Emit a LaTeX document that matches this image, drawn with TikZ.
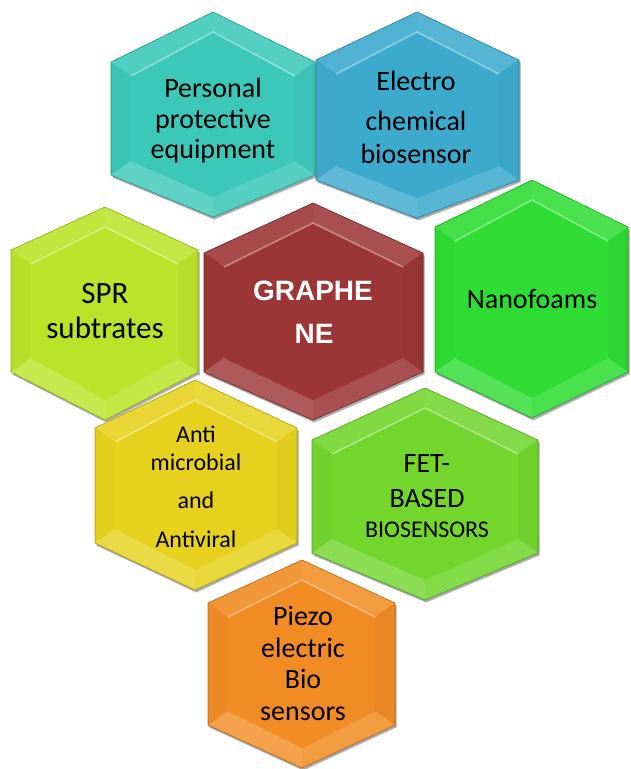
\documentclass[tikz,border=0pt]{standalone}
\usepackage{fontspec}
\setmainfont{Carlito}
\newfontfamily\arialfont{Liberation Sans}
\definecolor{cteal}{HTML}{3CC8B8}
\definecolor{cblue}{HTML}{3CAACD}
\definecolor{clime}{HTML}{BAE42A}
\definecolor{cred}{HTML}{9C3636}
\definecolor{cgreen}{HTML}{2EDC34}
\definecolor{clgreen}{HTML}{72D62D}
\definecolor{cyellow}{HTML}{E6D21E}
\definecolor{corange}{HTML}{F08C23}
\tikzset{
  lbl/.style={anchor=base, inner sep=0pt, text=black, font=\fontsize{28}{31}\selectfont},
  lblsmall/.style={lbl, font=\fontsize{24}{27}\selectfont},
  lblwhite/.style={anchor=base, inner sep=0pt, text=white, font=\arialfont\bfseries\fontsize{28}{31}\selectfont},
}
% cx top bottom left right ul ll color
\newcommand\hexcell[8]{%
  \coordinate (T) at (#1,#2); \coordinate (B) at (#1,#3);
  \coordinate (UL) at (#4,#6); \coordinate (LL) at (#4,#7);
  \coordinate (UR) at (#5,#6); \coordinate (LR) at (#5,#7);
  \coordinate (iT) at (#1,#2+20); \coordinate (iB) at (#1,#3-20);
  \coordinate (iUL) at (#4+20,#6+14); \coordinate (iLL) at (#4+20,#7-14);
  \coordinate (iUR) at (#5-20,#6+14); \coordinate (iLR) at (#5-20,#7-14);
  \fill[black, opacity=0.35] ([shift={(1.5,2.5)}]T) -- ([shift={(1.5,2.5)}]UR) -- ([shift={(1.5,2.5)}]LR) -- ([shift={(1.5,2.5)}]B) -- ([shift={(1.5,2.5)}]LL) -- ([shift={(1.5,2.5)}]UL) -- cycle;
  \fill[#8] (T) -- (UR) -- (LR) -- (B) -- (LL) -- (UL) -- cycle;
  \fill[#8!90!white] (T) -- (UL) -- (iUL) -- (iT) -- cycle;
  \fill[#8!87!white] (T) -- (UR) -- (iUR) -- (iT) -- cycle;
  \fill[#8!98!black] (UL) -- (LL) -- (iLL) -- (iUL) -- cycle;
  \fill[#8!97!black] (UR) -- (LR) -- (iLR) -- (iUR) -- cycle;
  \fill[#8!82!white] (LL) -- (B) -- (iB) -- (iLL) -- cycle;
  \fill[#8!87!white] (LR) -- (B) -- (iB) -- (iLR) -- cycle;
  \fill[#8] (iT) -- (iUR) -- (iLR) -- (iB) -- (iLL) -- (iUL) -- cycle;
  \draw[white, opacity=0.4, line width=1.5pt] (iUL) -- (iT) -- (iUR);
  \draw[white, opacity=0.3, line width=1.2pt] ([yshift=-3]LL) -- ([yshift=-3]B) -- ([yshift=-3]LR);
  \draw[#8!75!black, line width=0.6pt] (T) -- (UR) -- (LR) -- (B) -- (LL) -- (UL) -- cycle;
}
\begin{document}
\begin{tikzpicture}[x=1pt,y=-1pt]
\useasboundingbox (0,0) rectangle (630,769);
\fill[white] (0,0) rectangle (630,769);

\hexcell{213}{12}{217}{111}{315}{62}{175}{cteal}
\hexcell{417}{12}{218}{316}{519}{60}{180}{cblue}
\hexcell{105}{207}{420}{11}{198}{250}{372}{clime}
\hexcell{313}{203}{420}{204}{423}{253}{372}{cred}
\hexcell{532}{180}{418}{435}{628}{227}{372}{cgreen}
\hexcell{425}{388}{600}{312}{538}{440}{553}{clgreen}
\hexcell{195}{380}{590}{95}{297}{428}{543}{cyellow}
\hexcell{302}{560}{768}{208}{395}{603}{725}{corange}

% Personal protective equipment
\node[lbl] (pa) at (213,97) {Personal};
\node[lbl] (pb) at (213,128) {protective};
\node[lbl] (pc) at (213,158) {equipment};
% Electro chemical biosensor
\node[lbl] (ea) at (416,90) {Electro};
\node[lbl] (eb) at (416,130) {chemical};
\node[lbl] (ec) at (416,163) {biosensor};
% SPR subtrates
\node[lbl, font=\fontsize{31}{34}\selectfont] (sa) at (105,303) {SPR};
\node[lbl, font=\fontsize{31}{34}\selectfont] (sb) at (105,338) {subtrates};
% GRAPHENE
\node[lblwhite] (ga) at (313,300) {GRAPHE};
\node[lblwhite] (gb) at (314,343) {NE};
% Nanofoams
\node[lbl] (na) at (532,308) {Nanofoams};
% FET-BASED BIOSENSORS
\node[lbl] (fa) at (427,472) {FET-};
\node[lbl] (fb) at (427,507) {BASED};
\node[lblsmall] (fc) at (427,537) {BIOSENSORS};
% Anti microbial and Antiviral
\node[lblsmall] (aa) at (196,442) {Anti};
\node[lblsmall] (ab) at (196,470) {microbial};
\node[lblsmall] (ac) at (196,508) {and};
\node[lblsmall] (ad) at (196,547) {Antiviral};
% Piezo electric Bio sensors
\node[lbl] (za) at (303,625) {Piezo};
\node[lbl] (zb) at (303,657) {electric};
\node[lbl] (zc) at (303,688) {Bio};
\node[lbl] (zd) at (303,720) {sensors};
\end{tikzpicture}
\end{document}
